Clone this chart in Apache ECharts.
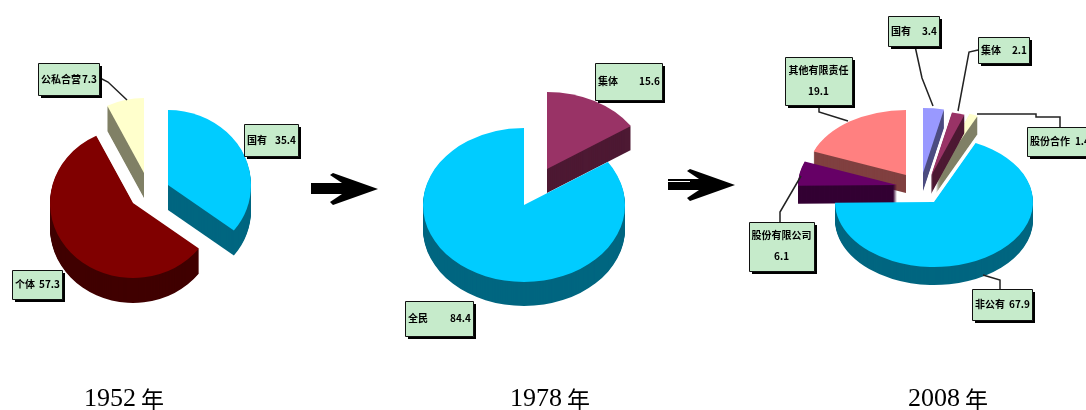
<!DOCTYPE html>
<html>
<head>
<meta charset="utf-8">
<style>
  html,body{margin:0;padding:0;background:#fff;overflow:hidden}
  #main{width:1086px;height:410px}
</style>
</head>
<body>
<div id="main"></div>
<script src="https://cdn.jsdelivr.net/npm/echarts@6/dist/echarts.min.js"></script>
<script>
// the label names in the picture are barely legible, these are best guesses
const years = ['1952', '1978', '2008']
const unit = '年'

const names1952 = ['国有', '个体', '公私合营']
const values1952 = [35.4, 57.3, 7.3]

const names1978 = ['集体', '全民']
const values1978 = [15.6, 84.4]

const names2008 = ['国有', '集体', '股份合作', '非公有', '股份有限公司', '其他有限责任']
const values2008 = [3.4, 2.1, 1.4, 67.9, 6.1, 19.1]

// slice look and placement, one entry per value
const pie1952 = {
  rx: 83, ry: 75, depth: 25,
  apex: [[168, 185], [133, 203], [144, 173]],
  top: ['#00CCFF', '#800000', '#FFFFCC'],
  side: ['#006680', '#400000', '#808066'],
  order: [1, 2, 3],
  box: [[244, 124, 54, 32], [12, 270, 50, 29], [38, 63, 61, 32]],
  lead: [null, null, [[100, 78], [108, 82], [127, 100]]]
}
const pie1978 = {
  rx: 101, ry: 77, depth: 24,
  apex: [[547, 169], [524, 205]],
  top: ['#993366', '#00CCFF'],
  side: ['#4D1933', '#006680'],
  order: [1, 2],
  box: [[595, 63, 67, 37], [405, 301, 68, 35]],
  lead: [null, null]
}
const pie2008 = {
  rx: 99, ry: 65, depth: 18,
  apex: [[923, 173], [931, 176], [936, 175], [934, 202], [897, 185], [906, 175]],
  top: ['#9999FF', '#993366', '#FFFFCC', '#00CCFF', '#660066', '#FF8080'],
  side: ['#4D4D80', '#4D1933', '#808066', '#006680', '#330033', '#804040'],
  order: [6, 5, 4, 3, 2, 1],
  box: [[888, 16, 51, 30], [978, 37, 51, 26], [1027, 127, 65, 29], [972, 289, 60, 31], [749, 222, 65, 49], [785, 57, 67, 48]],
  lead: [
    [[915, 46], [922, 78], [933, 106]],
    [[978, 50], [969, 52], [958, 111]],
    [[977, 114], [1036, 114], [1036, 117], [1060, 117], [1060, 127]],
    [[983, 275], [1000, 280], [1000, 289]],
    [[780, 222], [780, 212], [801, 176]],
    [[819, 105], [819, 112], [848, 121]]
  ]
}

function sectorAt(x, y, pie, a0, a1, color, z2) {
  return {
    type: 'group', x: x, y: y, scaleX: 1, scaleY: pie.ry / pie.rx,
    children: [{
      type: 'sector', z2: z2, silent: true,
      shape: { cx: 0, cy: 0, r0: 0, r: pie.rx, startAngle: a0, endAngle: a1 },
      style: { fill: color }
    }]
  }
}

function makeSeries(names, values, pie) {
  const total = values.reduce((a, b) => a + b, 0)
  return {
    type: 'custom',
    coordinateSystem: 'none',
    silent: true,
    data: values.map((v, i) => ({ name: names[i], value: [v] })),
    renderItem: function (params, api) {
      const i = params.dataIndex
      let before = 0
      for (let k = 0; k < i; k++) before += values[k]
      // angle 0 is north, going clockwise
      const a0 = before / total * Math.PI * 2 - Math.PI / 2
      const a1 = (before + api.value(0)) / total * Math.PI * 2 - Math.PI / 2
      const ax = pie.apex[i][0], ay = pie.apex[i][1]
      const z = pie.order[i] * 10
      const kids = []
      for (let d = pie.depth; d > 0; d--) {
        kids.push(sectorAt(ax, ay + d, pie, a0, a1, pie.side[i], z))
      }
      kids.push(sectorAt(ax, ay, pie, a0, a1, pie.top[i], z + 1))

      if (pie.lead[i]) {
        kids.push({
          type: 'polyline', z2: 200, silent: true,
          shape: { points: pie.lead[i] },
          style: { fill: null, stroke: '#222', lineWidth: 1.5 }
        })
      }
      const b = pie.box[i]
      kids.push({ type: 'rect', z2: 201, silent: true, shape: { x: b[0] + 3, y: b[1] + 3, width: b[2], height: b[3] }, style: { fill: '#000' } })
      kids.push({ type: 'rect', z2: 202, silent: true, shape: { x: b[0] + 0.5, y: b[1] + 0.5, width: b[2], height: b[3] }, style: { fill: '#C6EBCB', stroke: '#111', lineWidth: 1 } })
      const name = names[i]
      const val = String(api.value(0))
      const font = 'bold 10px "Noto Sans CJK SC"'
      if (b[3] > 40) {
        kids.push({ type: 'text', z2: 203, silent: true, x: b[0] + b[2] / 2, y: b[1] + 13, style: { text: name, font: font, fill: '#000', align: 'center', verticalAlign: 'middle' } })
        kids.push({ type: 'text', z2: 203, silent: true, x: b[0] + b[2] / 2, y: b[1] + 34, style: { text: val, font: font, fill: '#000', align: 'center', verticalAlign: 'middle' } })
      } else {
        kids.push({ type: 'text', z2: 203, silent: true, x: b[0] + 3, y: b[1] + b[3] / 2, style: { text: name, font: font, fill: '#000', align: 'left', verticalAlign: 'middle' } })
        kids.push({ type: 'text', z2: 203, silent: true, x: b[0] + b[2] - 2, y: b[1] + b[3] / 2, style: { text: val, font: font, fill: '#000', align: 'right', verticalAlign: 'middle' } })
      }
      return { type: 'group', children: kids }
    }
  }
}

function arrow(dx, dy) {
  const pts = [[311, 183], [342, 183], [330, 175], [333, 173], [378, 189], [333, 205], [330, 202], [342, 194], [311, 194]]
  return {
    type: 'polygon', silent: true,
    shape: { points: pts.map(p => [p[0] + dx, p[1] + dy]) },
    style: { fill: '#000' }
  }
}

const yearLeft = [84, 510, 908]

const myChart = echarts.init(document.getElementById('main'), null, { renderer: 'canvas' })
myChart.setOption({
  animation: false,
  backgroundColor: '#fff',
  title: years.map((y, i) => ({
    text: '{a|' + y + '} {b|' + unit + '}',
    left: yearLeft[i],
    top: 386,
    padding: 0,
    textStyle: {
      rich: {
        a: { fontFamily: 'Liberation Serif', fontSize: 26, fontWeight: 'normal', color: '#000' },
        b: { fontFamily: 'Noto Sans CJK SC', fontSize: 23, fontWeight: 'normal', color: '#000' }
      }
    }
  })),
  graphic: [
    arrow(0, 0),
    arrow(357, -4),
    { type: 'rect', silent: true, shape: { x: 668, y: 181, width: 22, height: 1 }, style: { fill: '#fff' } }
  ],
  series: [
    makeSeries(names1952, values1952, pie1952),
    makeSeries(names1978, values1978, pie1978),
    makeSeries(names2008, values2008, pie2008)
  ]
})
</script>
</body>
</html>
